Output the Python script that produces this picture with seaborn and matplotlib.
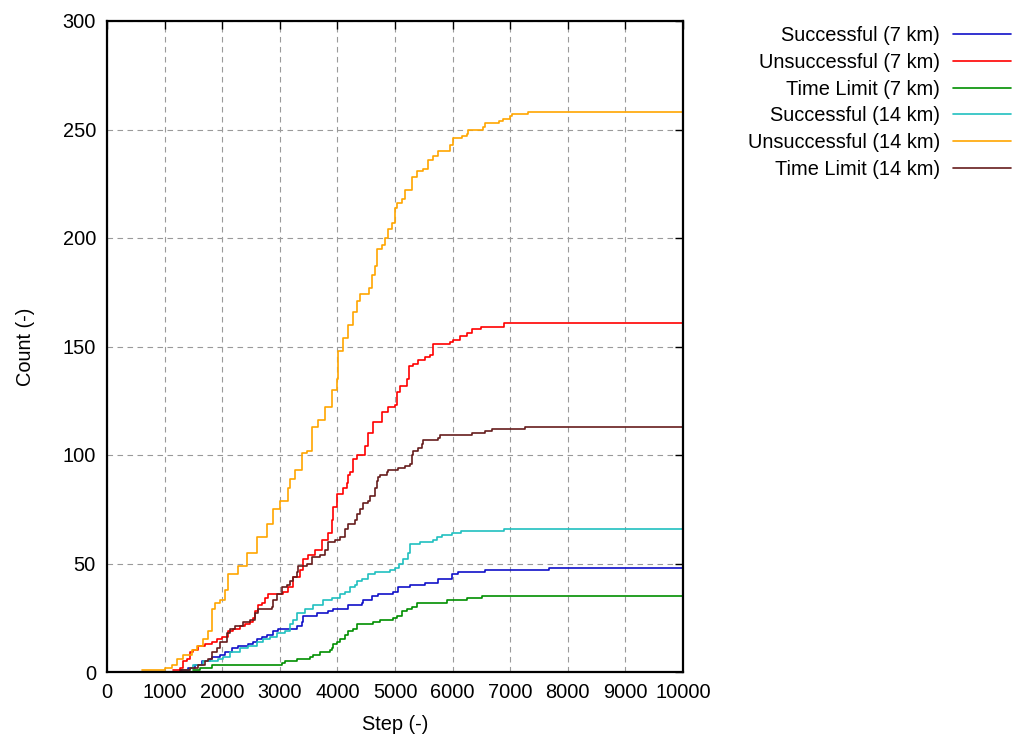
import numpy as np
import pandas as pd
import matplotlib
matplotlib.use("Agg")
import matplotlib.pyplot as plt
import seaborn as sns

# ---------------- data ----------------
x_end = 10000

succ7_x = [1267, 1412, 1528, 1643, 1788, 1818, 1962, 2049, 2164, 2280, 2454, 2541, 2599, 2686, 2772, 2888,
           2974, 3293, 3380, 3408, 3640, 3843, 3929, 4190, 4422, 4450, 4595, 4710, 4971, 5058, 5260, 5521,
           5752, 5984, 6099, 6563, 7670]
succ7_y = [1, 2, 3, 5, 6, 7, 8, 9, 11, 12, 13, 14, 15, 16, 17, 19,
           20, 21, 23, 26, 27, 28, 29, 31, 32, 33, 35, 36, 37, 39, 40, 41,
           43, 45, 46, 47, 48]

unsucc7_x = [1150, 1267, 1325, 1383, 1441, 1498, 1585, 1701, 1818, 1903, 1988, 2106, 2193, 2309, 2396, 2483,
             2541, 2569, 2627, 2686, 2743, 2800, 3061, 3148, 3235, 3351, 3408, 3495, 3611, 3727, 3843, 3901,
             3929, 3988, 4103, 4161, 4190, 4219, 4277, 4335, 4479, 4537, 4624, 4768, 4884, 5000, 5029, 5087,
             5203, 5249, 5318, 5405, 5521, 5608, 5654, 5955, 6013, 6128, 6245, 6331, 6488, 6892]
unsucc7_y = [1, 2, 5, 6, 9, 10, 12, 13, 14, 15, 16, 19, 20, 21, 22, 23,
             25, 28, 31, 32, 34, 36, 37, 39, 44, 47, 52, 54, 56, 61, 64, 70,
             76, 82, 85, 87, 91, 92, 98, 100, 104, 110, 115, 120, 122, 123, 129, 132,
             135, 141, 142, 144, 145, 146, 151, 152, 153, 155, 156, 158, 159, 161]

tl7_x = [1498, 1615, 1818, 3030, 3090, 3293, 3524, 3580, 3698, 3872, 3901, 3929, 3988, 4045, 4132, 4190,
         4277, 4335, 4624, 4740, 4971, 5029, 5116, 5203, 5289, 5376, 5897, 6245, 6505]
tl7_y = [1, 2, 3, 4, 5, 6, 7, 8, 9, 10, 11, 13, 14, 15, 17, 19,
         20, 22, 23, 24, 25, 26, 28, 29, 30, 32, 33, 34, 35]

succ14_x = [1325, 1441, 1498, 1672, 1818, 1933, 2020, 2135, 2309, 2454, 2599, 2714, 2830, 2946, 3090, 3177,
            3235, 3293, 3437, 3582, 3756, 3901, 4045, 4132, 4219, 4306, 4335, 4422, 4537, 4653, 4913, 5000,
            5075, 5144, 5231, 5260, 5434, 5654, 5723, 5810, 5984, 6140, 6892]
succ14_y = [1, 2, 3, 5, 5, 6, 7, 9, 11, 12, 14, 15, 16, 18, 19, 22,
            24, 27, 29, 31, 33, 34, 36, 37, 39, 40, 42, 43, 45, 46, 47, 48,
            50, 52, 55, 59, 60, 61, 62, 63, 64, 65, 66]

unsucc14_x = [600, 1007, 1123, 1210, 1325, 1470, 1557, 1672, 1759, 1818, 1875, 1962, 2049, 2106, 2280, 2425,
              2599, 2772, 2888, 3003, 3148, 3177, 3264, 3380, 3467, 3553, 3669, 3785, 3901, 3988, 4016, 4103,
              4190, 4277, 4335, 4396, 4548, 4595, 4653, 4682, 4768, 4826, 4884, 4942, 5000, 5029, 5116, 5174,
              5300, 5376, 5480, 5578, 5665, 5752, 5955, 6013, 6158, 6245, 6273, 6534, 6563, 6800, 6880, 6997,
              7026, 7314]
unsucc14_y = [1, 2, 3, 6, 8, 10, 12, 15, 19, 29, 32, 33, 38, 45, 49, 55,
              62, 68, 75, 79, 85, 89, 93, 101, 102, 113, 116, 122, 130, 135, 148, 154,
              160, 166, 171, 174, 177, 183, 187, 195, 197, 200, 204, 207, 214, 216, 218, 222,
              228, 231, 232, 236, 238, 240, 243, 246, 247, 248, 250, 251, 253, 254, 255, 256,
              257, 258]

tl14_x = [1267, 1441, 1585, 1701, 1759, 1818, 1903, 1962, 2078, 2135, 2222, 2367, 2483, 2569, 2627, 2859,
          2888, 2946, 3032, 3119, 3177, 3235, 3293, 3321, 3467, 3553, 3698, 3785, 3843, 3958, 4045, 4132,
          4190, 4306, 4335, 4392, 4450, 4537, 4566, 4653, 4682, 4710, 4740, 4855, 4884, 5058, 5174, 5260,
          5289, 5318, 5405, 5463, 5491, 5752, 5781, 6331, 6563, 6678, 7257]
tl14_y = [1, 2, 3, 5, 6, 9, 11, 14, 18, 20, 21, 23, 24, 27, 29, 30,
          33, 36, 39, 40, 42, 44, 46, 49, 50, 53, 54, 56, 60, 61, 62, 66,
          68, 70, 73, 75, 78, 79, 81, 85, 88, 90, 91, 92, 93, 94, 95, 96,
          100, 102, 103, 105, 107, 108, 109, 110, 111, 112, 113]

series_names = ["Successful (7 km)", "Unsuccessful (7 km)", "Time Limit (7 km)",
                "Successful (14 km)", "Unsuccessful (14 km)", "Time Limit (14 km)"]
series_x = [succ7_x, unsucc7_x, tl7_x, succ14_x, unsucc14_x, tl14_x]
series_y = [succ7_y, unsucc7_y, tl7_y, succ14_y, unsucc14_y, tl14_y]
colors = ["#1010c8", "#ff0000", "#008f00", "#20c0c0", "#ffa500", "#661c1c"]

x_ticks = list(range(0, 10001, 1000))
y_ticks = list(range(0, 301, 50))

# ---------------- build long table ----------------
rows = []
for name, xs, ys in zip(series_names, series_x, series_y):
    xs_full = list(xs) + [x_end]
    ys_full = list(ys) + [ys[-1]]
    for xv, yv in zip(xs_full, ys_full):
        rows.append((name, xv, yv))
df = pd.DataFrame(rows, columns=["series", "step", "count"])

# ---------------- plot ----------------
sns.set_theme(style="white")
plt.rcParams["font.family"] = ["Liberation Sans", "DejaVu Sans"]
plt.rcParams["font.size"] = 14.4
plt.rcParams["text.color"] = "black"
plt.rcParams["axes.labelcolor"] = "black"

fig = plt.figure(figsize=(10.16, 7.36), dpi=100)
ax = fig.add_axes([107 / 1016, 1 - 672 / 736, (683 - 107) / 1016, (672 - 21) / 736])

sns.lineplot(data=df, x="step", y="count", hue="series", hue_order=series_names,
             palette=colors, drawstyle="steps-post", estimator=None, linewidth=1.2,
             ax=ax, legend=True)

ax.set_xlim(0, 10000)
ax.set_ylim(0, 300)
ax.set_xticks(x_ticks)
ax.set_yticks(y_ticks)
ax.tick_params(direction="in", length=6, width=1.0, top=True, right=True,
               labelsize=14.4, colors="black", pad=8)
ax.grid(True, color="#9a9a9a", linestyle=(0, (5, 4)), linewidth=0.8)
for sp in ax.spines.values():
    sp.set_color("black")
    sp.set_linewidth(1.6)
ax.set_xlabel("Step (-)", fontsize=14.4, labelpad=9, color="black")
ax.set_ylabel("Count (-)", fontsize=14.4, labelpad=20, color="black")

handles, labels = ax.get_legend_handles_labels()
leg = ax.legend(handles, labels, loc="upper right", bbox_to_anchor=(1011 / 1016, 1 - 26 / 736),
                bbox_transform=fig.transFigure, frameon=False, markerfirst=False,
                handlelength=2.9, handletextpad=0.65, labelspacing=0.39, borderpad=0,
                borderaxespad=0, fontsize=14.4)
for line in leg.get_lines():
    line.set_linewidth(1.2)
for t in leg.get_texts():
    t.set_color("black")

fig.savefig("out.png", dpi=100)
